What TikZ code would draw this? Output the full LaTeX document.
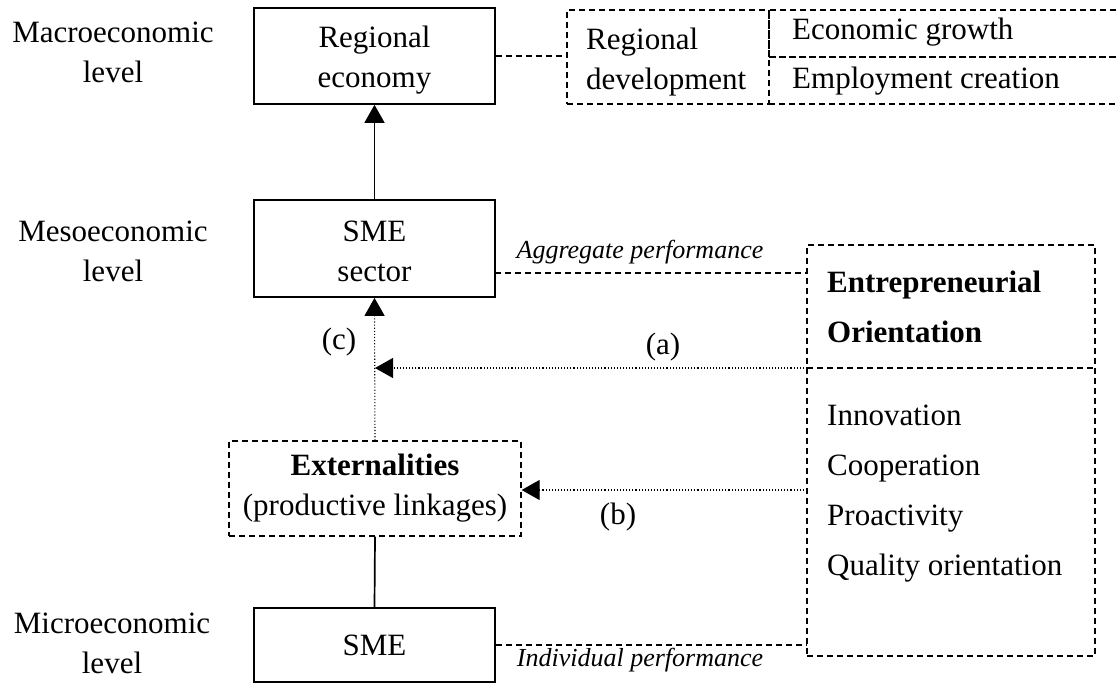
\documentclass[tikz,border=0pt]{standalone}
\usepackage{fontspec}
\setmainfont{Liberation Serif}
\usetikzlibrary{arrows.meta}
\begin{document}
\begin{tikzpicture}[x=1pt,y=-1pt,
  every node/.style={font=\fontsize{31}{40}\selectfont, inner sep=0pt},
  solidbox/.style={draw, line width=1.7pt, minimum width=241pt, align=center},
  dashbox/.style={draw, line width=1.3pt, dash pattern=on 6pt off 4pt},
  dashline/.style={line width=1.3pt, dash pattern=on 6pt off 4pt},
  dotline/.style={line width=1.1pt, dash pattern=on 1.1pt off 2pt},
  solidline/.style={line width=1.7pt},
  tip/.style={-{Triangle[length=18pt,width=20pt]}},
  one/.style={text height=0.7em, text depth=0.25em},
  itlabel/.style={font=\fontsize{26}{30}\selectfont\itshape, text height=0.7em, text depth=0.25em},
  boldlabel/.style={font=\fontsize{31}{40}\selectfont\bfseries, text height=0.7em, text depth=0.25em}
]
\useasboundingbox (0,0) rectangle (1117,683);

% level labels
\node[align=center] (macro) at (113,52) {Macroeconomic\\level};
\node[align=center] (meso) at (113,251) {Mesoeconomic\\level};
\node[align=center] (micro) at (112,643) {Microeconomic\\level};

% main boxes
\node[solidbox, minimum height=96pt] (re) at (374.5,56) {};
\node[align=center] (ret) at (374.5,60) {Regional\\economy};
\node[solidbox, minimum height=97pt] (ss) at (374.5,248.5) {};
\node[align=center] (sst) at (374.5,251) {SME\\sector};
\node[solidbox, minimum height=74pt] (sme) at (374.5,645) {SME};
\node[dashbox, minimum width=292pt, minimum height=95pt, align=center] (ext) at (375,488.5) {\textbf{Externalities}\\(productive linkages)};

% top-right dashed table
\node[dashbox, minimum width=202pt, minimum height=94pt] (rd) at (668,57) {};
\node[anchor=west, align=left] (rdt) at (586,62) {Regional\\development};
\node[dashbox, minimum width=360pt, minimum height=47pt] (eg) at (949,33.5) {};
\node[dashbox, minimum width=360pt, minimum height=47pt] (emp) at (949,80.5) {};
\node[anchor=west, one] (egt) at (792,37) {Economic growth};
\node[anchor=west, one] (empt) at (792,86) {Employment creation};

% entrepreneurial orientation box
\node[dashbox, minimum width=288pt, minimum height=411pt] (eo) at (951,450.5) {};
\coordinate (eodivL) at (807,368);
\coordinate (eodivR) at (1095,368);
\draw[dashline] (eodivL) -- (eodivR);
\node[boldlabel, anchor=west] (eo1) at (827,290) {Entrepreneurial};
\node[boldlabel, anchor=west] (eo2) at (827,340) {Orientation};
\node[one, anchor=west] (i1) at (827,423) {Innovation};
\node[one, anchor=west] (i2) at (827,473) {Cooperation};
\node[one, anchor=west] (i3) at (827,523) {Proactivity};
\node[one, anchor=west] (i4) at (827,573) {Quality orientation};

% connectors
\draw[solidline, tip] (ss.north) -- (re.south);
\draw[dashline] (re.east) -- (rd.west |- re.east);
\coordinate (aggL) at (495,273);
\draw[dashline] (aggL) -- (eo.west |- aggL);
\node[itlabel] (agg) at (640,256) {Aggregate performance};

\draw[dotline, tip] (ext.north) -- (ss.south);
\node[one] (lc) at (339,347) {(c)};

\coordinate (amid) at (375,368);
\draw[dotline, tip] (eodivL) -- (amid);
\node[one] (la) at (663,352) {(a)};

\coordinate (bR) at (807,490);
\draw[dotline, tip] (bR) -- (ext.east |- bR);
\node[one] (lb) at (618,522) {(b)};

\draw[solidline] (ext.south) -- (sme.north);
\draw[dashline] (sme.east) -- (eo.west |- sme.east);
\node[itlabel] (ind) at (640,664) {Individual performance};
\end{tikzpicture}
\end{document}
